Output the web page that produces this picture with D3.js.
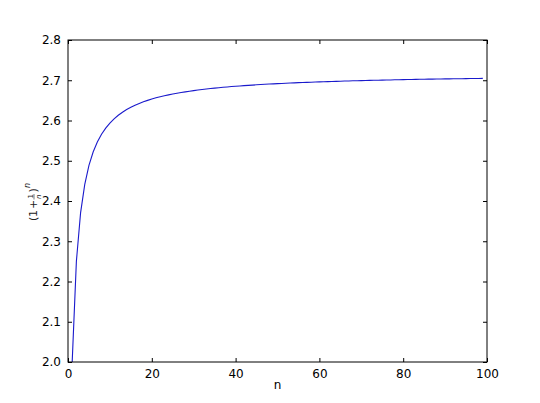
<!DOCTYPE html>
<html>
<head>
<meta charset="utf-8">
<script src="https://cdn.jsdelivr.net/npm/d3@7"></script>
<style>
  body { margin: 0; background: #fff; }
  text { font-family: "DejaVu Sans", sans-serif; }
</style>
</head>
<body>
<div id="chart"></div>
<script>
// n values and (1 + 1/n)^n
const nValues = d3.range(1, 100);
const yValues = [
  2.0000, 2.2500, 2.3704, 2.4414, 2.4883, 2.5216, 2.5465, 2.5658, 2.5812, 2.5937,
  2.6042, 2.6130, 2.6206, 2.6272, 2.6329, 2.6379, 2.6424, 2.6464, 2.6500, 2.6533,
  2.6563, 2.6590, 2.6614, 2.6637, 2.6658, 2.6678, 2.6696, 2.6712, 2.6728, 2.6743,
  2.6757, 2.6770, 2.6782, 2.6794, 2.6805, 2.6815, 2.6825, 2.6834, 2.6843, 2.6851,
  2.6859, 2.6866, 2.6873, 2.6880, 2.6887, 2.6893, 2.6899, 2.6905, 2.6911, 2.6916,
  2.6921, 2.6926, 2.6931, 2.6935, 2.6940, 2.6944, 2.6948, 2.6952, 2.6956, 2.6960,
  2.6963, 2.6967, 2.6970, 2.6973, 2.6977, 2.6980, 2.6983, 2.6986, 2.6988, 2.6991,
  2.6994, 2.6996, 2.6999, 2.7001, 2.7004, 2.7006, 2.7008, 2.7011, 2.7013, 2.7015,
  2.7017, 2.7019, 2.7021, 2.7023, 2.7025, 2.7027, 2.7028, 2.7030, 2.7032, 2.7033,
  2.7035, 2.7036, 2.7038, 2.7039, 2.7041, 2.7042, 2.7043, 2.7045, 2.7046
];
const xTicks = [0, 20, 40, 60, 80, 100];
const yTicks = [2.0, 2.1, 2.2, 2.3, 2.4, 2.5, 2.6, 2.7, 2.8];

const width = 540;
const height = 403;
const margin = { top: 40, right: 53, bottom: 41, left: 68 };
const innerW = width - margin.left - margin.right;
const innerH = height - margin.top - margin.bottom;

const svg = d3.select('#chart')
  .append('svg')
  .attr('width', width)
  .attr('height', height);

const g = svg.append('g')
  .attr('transform', `translate(${margin.left},${margin.top})`);

const x = d3.scaleLinear().domain([0, 100]).range([0, innerW]);
const y = d3.scaleLinear().domain([2.0, 2.8]).range([innerH, 0]);

// clip so the curve stays inside the axes box
g.append('clipPath').attr('id', 'clip')
  .append('rect').attr('width', innerW).attr('height', innerH);

const line = d3.line()
  .x((d, i) => x(nValues[i]))
  .y(d => y(d));

g.append('path')
  .datum(yValues)
  .attr('clip-path', 'url(#clip)')
  .attr('fill', 'none')
  .attr('stroke', '#1a1acc')
  .attr('stroke-width', 1.1)
  .attr('d', line);

// axes with inward ticks on all four sides
const fmt = d3.format('.1f');
const styleAxis = sel => {
  sel.select('.domain').remove();
  sel.selectAll('.tick line').attr('stroke', '#000');
  sel.selectAll('.tick text').attr('fill', '#000').style('font-size', '12px');
};

g.append('g')
  .attr('transform', `translate(0,${innerH})`)
  .call(d3.axisBottom(x).tickValues(xTicks).tickSizeInner(-4).tickSizeOuter(0).tickPadding(7))
  .call(styleAxis);

g.append('g')
  .call(d3.axisTop(x).tickValues(xTicks).tickSizeInner(-4).tickSizeOuter(0).tickFormat(''))
  .call(styleAxis);

g.append('g')
  .call(d3.axisLeft(y).tickValues(yTicks).tickSizeInner(-4).tickSizeOuter(0).tickPadding(7).tickFormat(fmt))
  .call(styleAxis);

g.append('g')
  .attr('transform', `translate(${innerW},0)`)
  .call(d3.axisRight(y).tickValues(yTicks).tickSizeInner(-4).tickSizeOuter(0).tickFormat(''))
  .call(styleAxis);

g.selectAll('.tick text').attr('font-family', '"DejaVu Sans", sans-serif');

// frame
g.append('rect')
  .attr('width', innerW)
  .attr('height', innerH)
  .attr('fill', 'none')
  .attr('stroke', '#000')
  .attr('stroke-width', 1);

// x label
svg.append('text')
  .attr('x', margin.left + innerW / 2)
  .attr('y', height - 14)
  .attr('text-anchor', 'middle')
  .style('font-size', '12px')
  .text('n');

// y label: (1 + 1/n)^n, glyph by glyph
const yl = svg.append('g')
  .attr('transform', `translate(37,${margin.top + innerH / 2 + 1}) rotate(-90)`)
  .attr('fill', '#222');
const x0 = -19;
const glyph = (t, dx, dy, size, italic) => yl.append('text')
  .attr('x', x0 + dx).attr('y', dy)
  .style('font-size', size + 'px')
  .style('font-style', italic ? 'italic' : 'normal')
  .text(t);
glyph('(', 0, 0, 11);
glyph('1', 4, 0, 11);
glyph('+', 12, 0, 11);
glyph('1', 22.5, -4.5, 7);
yl.append('line').attr('x1', x0 + 21.5).attr('x2', x0 + 27).attr('y1', -3).attr('y2', -3)
  .attr('stroke', '#222').attr('stroke-width', 0.6);
glyph('n', 22, 3.5, 7, true);
glyph(')', 28.5, 0, 11);
glyph('n', 33, -7, 8, true);
</script>
</body>
</html>
